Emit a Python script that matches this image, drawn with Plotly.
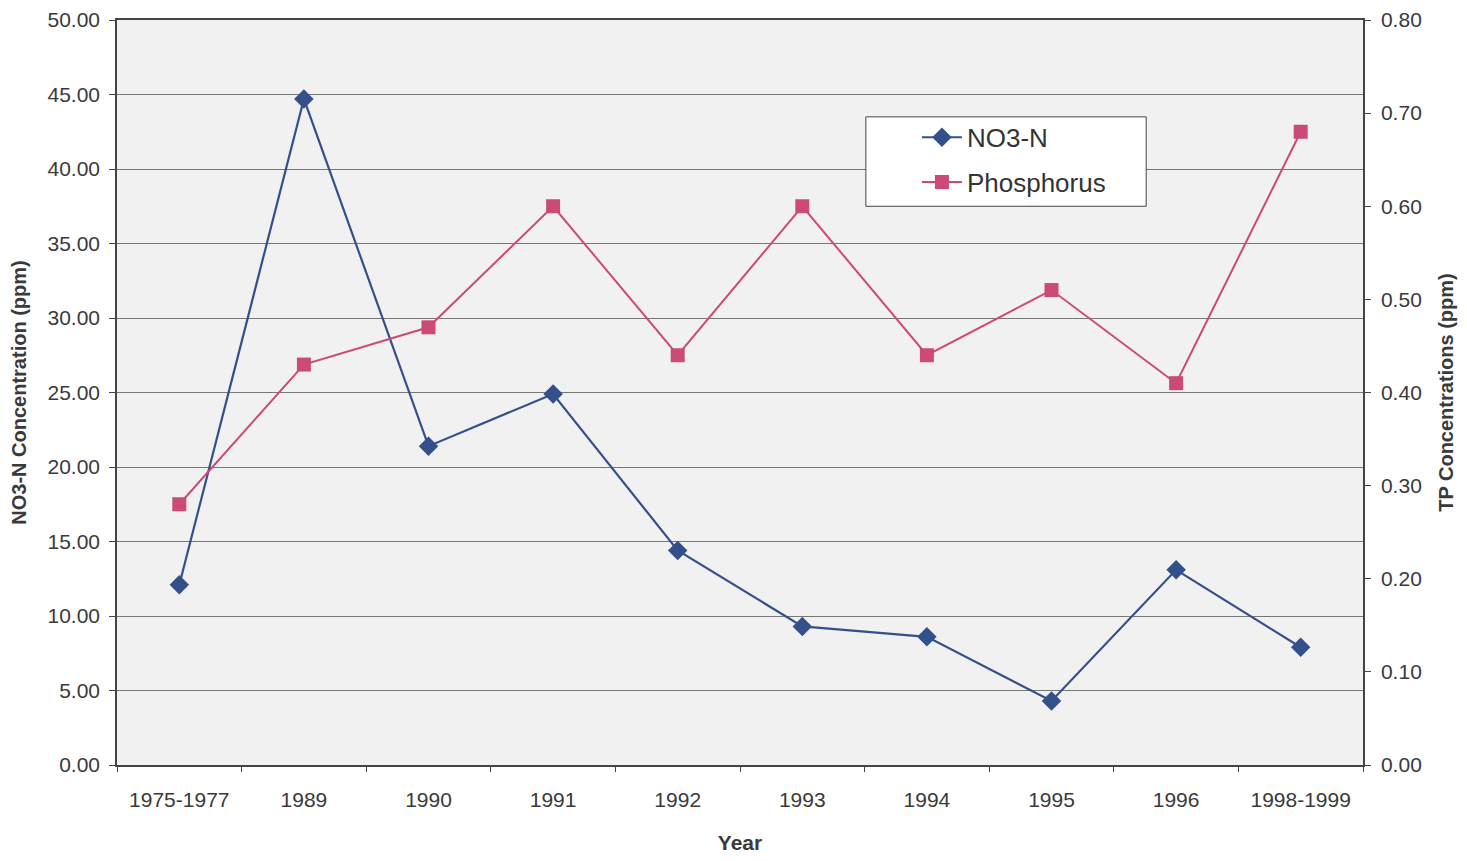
import plotly.graph_objects as go

years = ["1975-1977", "1989", "1990", "1991", "1992", "1993", "1994", "1995", "1996", "1998-1999"]
no3n = [12.1, 44.7, 21.4, 24.9, 14.4, 9.3, 8.6, 4.3, 13.1, 7.9]
phosphorus = [0.28, 0.43, 0.47, 0.60, 0.44, 0.60, 0.44, 0.51, 0.41, 0.68]

left_ticks = [i * 5 for i in range(11)]
right_ticks = [i * 0.1 for i in range(9)]

navy = "#33508a"
pink = "#cc4a78"
font = "Liberation Sans, Arial, sans-serif"

fig = go.Figure()
fig.add_trace(go.Scatter(
    x=years, y=no3n, name="NO3-N", mode="lines+markers", legendgroup="a",
    line=dict(color=navy, width=2.2),
    marker=dict(symbol="diamond", size=15, color=navy),
))
fig.add_trace(go.Scatter(
    x=years, y=phosphorus, name="Phosphorus", mode="lines+markers", yaxis="y2", legendgroup="b",
    line=dict(color=pink, width=2),
    marker=dict(symbol="square", size=14, color=pink),
))

fig.add_shape(
    type="rect", xref="paper", yref="paper",
    x0=0.601, x1=0.826, y0=0.750, y1=0.870,
    fillcolor="white", line=dict(color="#444", width=1), layer="above",
)

fig.update_layout(
    width=1467, height=861,
    margin=dict(l=109, r=112, t=12, b=104),
    paper_bgcolor="white",
    plot_bgcolor="#f1f1f1",
    font=dict(family=font, size=21, color="#3a3a3a"),
    xaxis=dict(
        type="category", range=[-0.5, len(years) - 0.5],
        showline=True, linecolor="#444", linewidth=1.5, mirror=True,
        ticks="outside", tickson="boundaries", ticklen=5, tickcolor="#444",
        showgrid=False, automargin=False, ticklabelstandoff=15,
        title=dict(text="<b>Year</b>", font=dict(size=21), standoff=25),
    ),
    yaxis=dict(
        range=[0, 50], tickvals=left_ticks, tickformat=".2f",
        showline=True, linecolor="#444", linewidth=1.5,
        ticks="outside", ticklen=6, tickcolor="#444", automargin=False,
        ticklabelstandoff=5,
        showgrid=True, gridcolor="#777", gridwidth=1, zeroline=False,
        title=dict(text="<b>NO3-N Concentration (ppm)</b>", font=dict(size=20), standoff=19),
    ),
    yaxis2=dict(
        range=[0, 0.8], tickvals=right_ticks, tickformat=".2f",
        overlaying="y", side="right",
        showline=True, linecolor="#444", linewidth=1.5,
        ticks="outside", ticklen=6, tickcolor="#444", automargin=False,
        ticklabelstandoff=6,
        showgrid=False, zeroline=False,
        title=dict(text="<b>TP Concentrations (ppm)</b>", font=dict(size=20), standoff=18),
    ),
    legend=dict(
        x=0.642, y=0.874, xanchor="left", yanchor="top",
        bgcolor="rgba(0,0,0,0)", borderwidth=0,
        font=dict(size=26, color="#333"),
        itemwidth=40, tracegroupgap=8,
    ),
    showlegend=True,
)

fig.write_html("out.html")
